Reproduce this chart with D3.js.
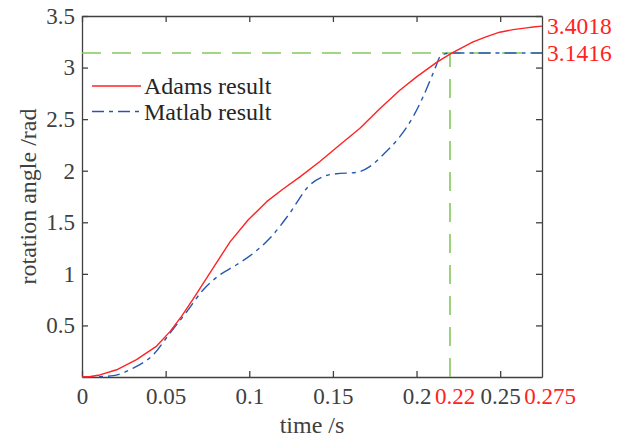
<!DOCTYPE html>
<html>
<head>
<meta charset="utf-8">
<script src="https://cdn.jsdelivr.net/npm/d3@7"></script>
<style>
  body { margin: 0; background: #fff; }
  text { font-family: "Liberation Serif", "Times New Roman", serif; }
</style>
</head>
<body>
<svg id="chart" width="626" height="439"></svg>
<script>
// Rotation angle vs time: ADAMS simulation and MATLAB model
const adamsTime  = [0, 0.005, 0.0107, 0.0207, 0.0326, 0.0446, 0.0526, 0.0596, 0.0666, 0.0765, 0.0885, 0.0994, 0.1104, 0.12, 0.1303, 0.1422, 0.154, 0.166, 0.178, 0.19, 0.2, 0.212, 0.221, 0.2338, 0.2419, 0.2497, 0.2577, 0.2657, 0.2697, 0.275];
const adamsAngle = [0, 0.005, 0.02, 0.07, 0.168, 0.30, 0.44, 0.59, 0.76, 1.01, 1.31, 1.524, 1.70, 1.82, 1.94, 2.09, 2.25, 2.41, 2.60, 2.78, 2.91, 3.05, 3.14, 3.25, 3.30, 3.343, 3.368, 3.385, 3.393, 3.4018];

const matlabTime  = [0, 0.01, 0.0187, 0.0307, 0.0426, 0.0526, 0.0625, 0.0725, 0.0824, 0.0924, 0.1024, 0.1124, 0.1243, 0.1353, 0.1442, 0.152, 0.164, 0.172, 0.18, 0.19, 0.198, 0.204, 0.209, 0.212, 0.214, 0.217, 0.22, 0.275];
const matlabAngle = [0, 0.003, 0.013, 0.087, 0.216, 0.426, 0.63, 0.846, 0.99, 1.088, 1.20, 1.347, 1.59, 1.847, 1.944, 1.97, 1.983, 2.04, 2.155, 2.33, 2.525, 2.72, 2.91, 3.03, 3.107, 3.133, 3.1416, 3.1416];

const xTicks = [0, 0.05, 0.1, 0.15, 0.2, 0.25];
const yTicks = [0.5, 1, 1.5, 2, 2.5, 3, 3.5];
const xMarks = [0.22, 0.275];          // highlighted times
const yMarks = [3.4018, 3.1416];       // highlighted angles
const targetAngle = 3.1416;
const targetTime = 0.22;
const seriesNames = ["Adams result", "Matlab result"];

const W = 626, H = 439;
const margin = { left: 82, right: 84, top: 16, bottom: 62 };
const axisColor = "#404040";
const red = "#ff2222", blue = "#2458b0", green = "#84c75c";
const dashDot = "12,5,4,5";

const svg = d3.select("#chart");
const x = d3.scaleLinear().domain([0, 0.275]).range([margin.left, W - margin.right]);
const y = d3.scaleLinear().domain([0, 3.5]).range([H - margin.bottom, margin.top]);

// axes (ticks point inward)
const axisBottomG = svg.append("g").attr("transform", `translate(0,${y(0)})`)
  .call(d3.axisBottom(x).tickValues(xTicks).tickSizeInner(-6).tickSizeOuter(0).tickPadding(11)
        .tickFormat(d => d === 0 ? "0" : String(d)));
const axisLeftG = svg.append("g").attr("transform", `translate(${x(0)},0)`)
  .call(d3.axisLeft(y).tickValues(yTicks).tickSizeInner(-6).tickSizeOuter(0).tickPadding(7)
        .tickFormat(d => String(d)));
const axisTopG = svg.append("g").attr("transform", `translate(0,${y(3.5)})`)
  .call(d3.axisTop(x).tickValues(xTicks).tickSizeInner(-6).tickSizeOuter(0).tickFormat(""));
const axisRightG = svg.append("g").attr("transform", `translate(${x(0.275)},0)`)
  .call(d3.axisRight(y).tickValues(yTicks).tickSizeInner(-6).tickSizeOuter(0).tickFormat(""));

[axisBottomG, axisLeftG, axisTopG, axisRightG].forEach(g => {
  g.select(".domain").attr("stroke", axisColor).attr("stroke-width", 1.3);
  g.selectAll(".tick line").attr("stroke", axisColor).attr("stroke-width", 1.3);
  g.selectAll(".tick text").attr("fill", axisColor).attr("font-size", 23)
    .attr("font-family", "Liberation Serif, Times New Roman, serif");
});

// highlighted time labels on the x axis
svg.append("g").selectAll("text").data(xMarks).join("text")
  .attr("x", d => x(d) + (d === 0.22 ? 5 : 8))
  .attr("y", y(0) + 11).attr("dy", "0.71em")
  .attr("text-anchor", "middle").attr("font-size", 23).attr("fill", red)
  .text(d => String(d));

// highlighted angle labels on the right
svg.append("g").selectAll("text").data(yMarks).join("text")
  .attr("x", x(0.275) + 5).attr("y", d => y(d)).attr("dy", "0.34em")
  .attr("font-size", 23.5).attr("fill", red)
  .text(d => d.toFixed(4));

// reference lines at the target angle and time
svg.append("line")
  .attr("x1", x(0)).attr("x2", x(0.275)).attr("y1", y(targetAngle)).attr("y2", y(targetAngle))
  .attr("stroke", green).attr("stroke-width", 1.6).attr("stroke-dasharray", "19,11");
svg.append("line")
  .attr("x1", x(targetTime)).attr("x2", x(targetTime)).attr("y1", y(0)).attr("y2", y(targetAngle))
  .attr("stroke", green).attr("stroke-width", 1.6).attr("stroke-dasharray", "19,12");

// curves: MATLAB smooth, ADAMS as sampled polyline
const smoothLine = d3.line().x(d => x(d[0])).y(d => y(d[1])).curve(d3.curveMonotoneX);
const sampledLine = d3.line().x(d => x(d[0])).y(d => y(d[1])).curve(d3.curveLinear);
svg.append("path").datum(d3.zip(matlabTime, matlabAngle))
  .attr("d", smoothLine).attr("fill", "none").attr("stroke", blue).attr("stroke-width", 1.4)
  .attr("stroke-dasharray", dashDot);
svg.append("path").datum(d3.zip(adamsTime, adamsAngle))
  .attr("d", sampledLine).attr("fill", "none").attr("stroke", red).attr("stroke-width", 1.4)
  .attr("stroke-linejoin", "round");

// legend
const legend = svg.append("g");
const legendColors = [red, blue];
const legendDash = [null, dashDot];
seriesNames.forEach((name, i) => {
  const ly = 86 + i * 25.5;
  legend.append("line").attr("x1", 92).attr("x2", 141).attr("y1", ly).attr("y2", ly)
    .attr("stroke", legendColors[i]).attr("stroke-width", 1.4)
    .attr("stroke-dasharray", legendDash[i]);
  legend.append("text").attr("x", 144).attr("y", ly).attr("dy", "0.34em")
    .attr("font-size", 24).attr("fill", "#262626").text(name);
});

// axis titles
svg.append("text").attr("x", (x(0) + x(0.275)) / 2).attr("y", 433)
  .attr("text-anchor", "middle").attr("font-size", 24).attr("fill", axisColor).text("time /s");
svg.append("text").attr("transform", `translate(36,${(y(0) + y(3.5)) / 2}) rotate(-90)`)
  .attr("text-anchor", "middle").attr("font-size", 24).attr("fill", axisColor).text("rotation angle /rad");
</script>
</body>
</html>
